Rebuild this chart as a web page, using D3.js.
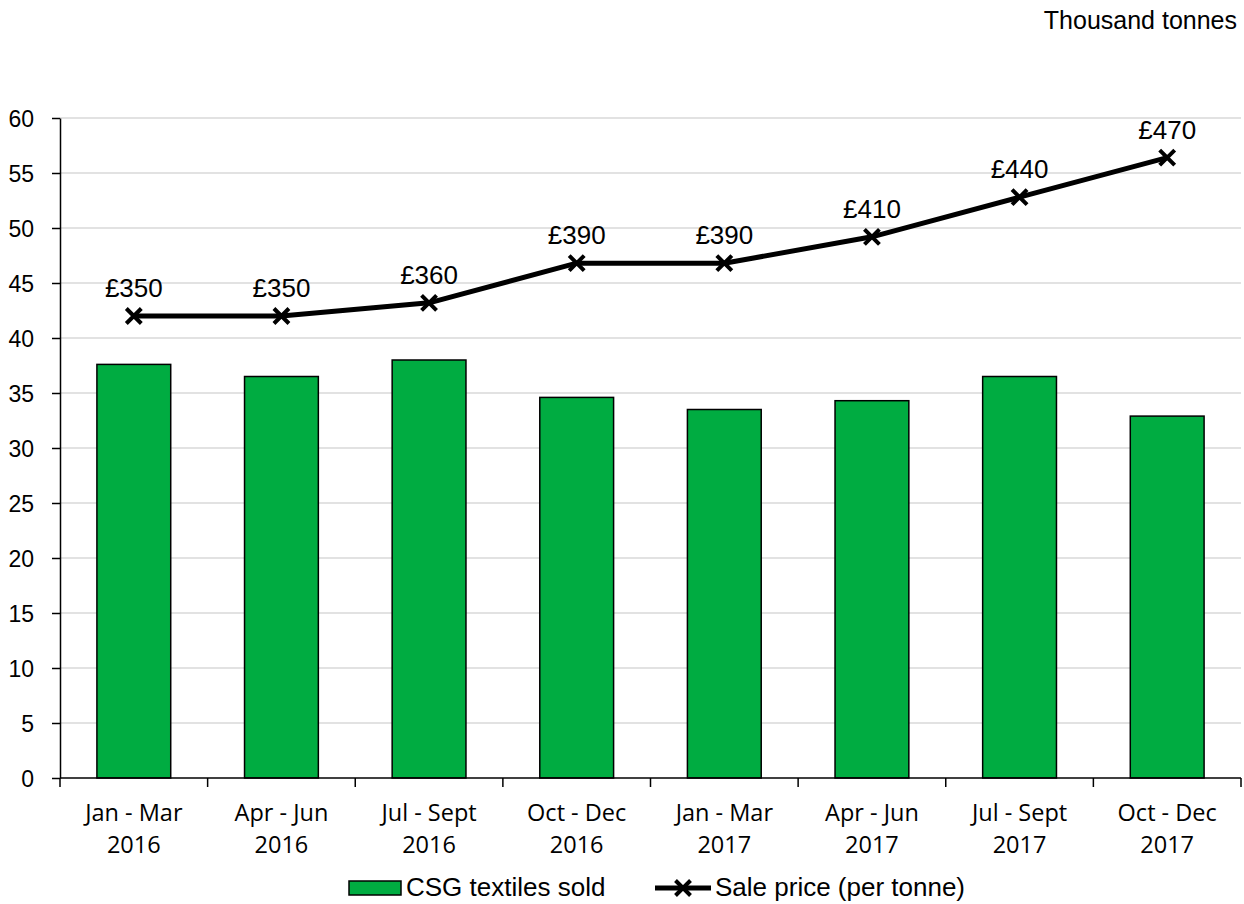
<!DOCTYPE html>
<html>
<head>
<meta charset="utf-8">
<script src="https://cdn.jsdelivr.net/npm/d3@7"></script>
<style>
  body { margin: 0; background: #fff; }
  svg { display: block; }
</style>
</head>
<body>
<svg id="chart" width="1244" height="904"></svg>
<script>
var quarters = ["Jan - Mar", "Apr - Jun", "Jul - Sept", "Oct - Dec", "Jan - Mar", "Apr - Jun", "Jul - Sept", "Oct - Dec"];
var years = ["2016", "2016", "2016", "2016", "2017", "2017", "2017", "2017"];
var textilesSold = [37.6, 36.5, 38.0, 34.6, 33.5, 34.3, 36.5, 32.9];
var salePrice = [350, 350, 360, 390, 390, 410, 440, 470];
var yTicks = [0, 5, 10, 15, 20, 25, 30, 35, 40, 45, 50, 55, 60];

var svg = d3.select("#chart"),
    margin = { top: 118, right: 3, bottom: 126, left: 60 },
    width = +svg.attr("width") - margin.left - margin.right,
    height = +svg.attr("height") - margin.top - margin.bottom,
    g = svg.append("g").attr("transform", "translate(" + margin.left + "," + margin.top + ")");

var idx = d3.range(quarters.length);

var x = d3.scaleBand()
    .domain(idx)
    .range([0, width])
    .paddingInner(0.5)
    .paddingOuter(0.25);

var y = d3.scaleLinear().domain([0, 60]).range([height, 0]);
// price sits on a hidden secondary axis
var y2 = d3.scaleLinear().domain([0, 500]).range([height, 0]);

var green = "#00ac41";
var arial = "Liberation Sans, Arial, sans-serif";

// gridlines
g.append("g")
    .selectAll("line")
    .data(yTicks.slice(1))
    .enter().append("line")
    .attr("x1", 0)
    .attr("x2", width)
    .attr("y1", d => y(d))
    .attr("y2", d => y(d))
    .attr("stroke", "#d9d9d9")
    .attr("stroke-width", 1.5);

// bars
g.append("g")
    .selectAll("rect")
    .data(idx)
    .enter().append("rect")
    .attr("x", d => x(d))
    .attr("y", d => y(textilesSold[d]))
    .attr("width", x.bandwidth())
    .attr("height", d => y(0) - y(textilesSold[d]))
    .attr("fill", green)
    .attr("stroke", "#000")
    .attr("stroke-width", 1.5);

// y axis
g.append("g")
    .call(d3.axisLeft(y).tickValues(yTicks).tickSize(8).tickSizeOuter(0))
    .call(g => g.select(".domain").attr("stroke", "#000").attr("stroke-width", 1.5))
    .call(g => g.selectAll(".tick line").attr("stroke-width", 1.5))
    .call(g => g.selectAll(".tick text")
        .attr("x", -26)
        .attr("dy", "0.35em")
        .attr("font-family", arial)
        .attr("font-size", 23)
        .attr("fill", "#000"));

// x axis with category ticks at band edges
var xa = g.append("g").attr("transform", "translate(0," + height + ")");
xa.append("line")
    .attr("x1", 0).attr("x2", width)
    .attr("stroke", "#000").attr("stroke-width", 1.5);
xa.selectAll(".edge")
    .data(d3.range(quarters.length + 1))
    .enter().append("line")
    .attr("class", "edge")
    .attr("x1", d => d * width / quarters.length)
    .attr("x2", d => d * width / quarters.length)
    .attr("y1", 0).attr("y2", 9)
    .attr("stroke", "#000").attr("stroke-width", 1.5);

var lab = xa.selectAll(".lab")
    .data(idx)
    .enter().append("text")
    .attr("class", "lab")
    .attr("text-anchor", "middle")
    .attr("font-family", "Open Sans, Noto Sans, sans-serif")
    .attr("font-size", 23.5)
    .attr("fill", "#000")
    .attr("transform", d => "translate(" + (x(d) + x.bandwidth() / 2) + ",0)");
lab.append("tspan").attr("x", 0).attr("y", 43).text(d => quarters[d]);
lab.append("tspan").attr("x", 0).attr("y", 75).text(d => years[d]);

// price line
var line = d3.line()
    .x(d => x(d) + x.bandwidth() / 2)
    .y(d => y2(salePrice[d]));

g.append("path")
    .datum(idx)
    .attr("fill", "none")
    .attr("stroke", "#000")
    .attr("stroke-width", 5)
    .attr("stroke-linejoin", "round")
    .attr("d", line);

function cross(sel, s) {
    sel.append("path")
        .attr("d", "M" + (-s) + "," + (-s) + "L" + s + "," + s + "M" + (-s) + "," + s + "L" + s + "," + (-s))
        .attr("stroke", "#000")
        .attr("stroke-width", 4)
        .attr("fill", "none");
}

var pts = g.append("g")
    .selectAll("g")
    .data(idx)
    .enter().append("g")
    .attr("transform", d => "translate(" + (x(d) + x.bandwidth() / 2) + "," + y2(salePrice[d]) + ")");
cross(pts, 7.5);

pts.append("text")
    .attr("y", -19)
    .attr("text-anchor", "middle")
    .attr("font-family", arial)
    .attr("font-size", 26)
    .attr("fill", "#000")
    .text(d => "£" + salePrice[d]);

// unit label
svg.append("text")
    .attr("x", 1237)
    .attr("y", 29)
    .attr("text-anchor", "end")
    .attr("font-family", arial)
    .attr("font-size", 25)
    .attr("fill", "#000")
    .text("Thousand tonnes");

// legend
var leg = svg.append("g").attr("font-family", arial).attr("font-size", 26);
leg.append("rect")
    .attr("x", 349).attr("y", 881).attr("width", 52).attr("height", 14)
    .attr("fill", green).attr("stroke", "#000").attr("stroke-width", 1.5);
leg.append("text").attr("x", 406).attr("y", 896).text("CSG textiles sold");

var lg = leg.append("g");
lg.append("line")
    .attr("x1", 655).attr("x2", 711).attr("y1", 888).attr("y2", 888)
    .attr("stroke", "#000").attr("stroke-width", 5);
var lc = lg.append("g").attr("transform", "translate(683,888)");
cross(lc, 7.5);
leg.append("text").attr("x", 715).attr("y", 896).text("Sale price (per tonne)");
</script>
</body>
</html>
